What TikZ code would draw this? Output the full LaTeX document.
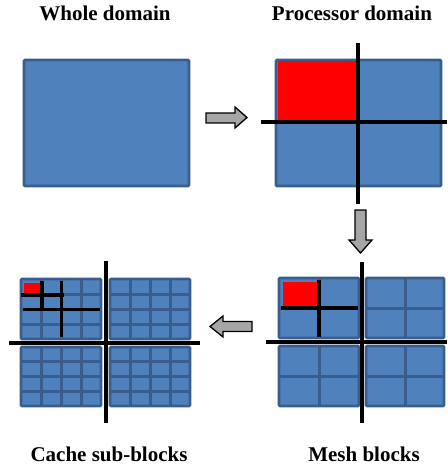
\documentclass[tikz,border=0pt]{standalone}
\usepackage{fontspec}
\setmainfont{Liberation Serif}
\definecolor{domainblue}{HTML}{4F81BD}
\definecolor{domainedge}{HTML}{395D8C}
\definecolor{arrowgray}{HTML}{A6A6A6}
\definecolor{hotred}{HTML}{FF0000}
\tikzset{
  title/.style={font=\bfseries\fontsize{21}{24}\selectfont, anchor=base, inner sep=0pt},
  domainbox/.style={fill=domainblue, draw=domainedge, line width=2.8pt, rounded corners=1pt},
  celledge/.style={draw=domainedge, line width=3pt},
  cutline/.style={line width=4pt, black},
  subcut/.style={line width=3.6pt, black},
  blockarrow/.style={fill=arrowgray, draw=black, line width=1.3pt, line join=miter},
}
% a block of cells: x0, y0, x1, y1, fractions where the cell walls sit
\newcommand\cellblock[5]{%
  \fill[domainblue] (#1,#2) rectangle (#3,#4);
  \foreach \f in {#5} {
    \draw[celledge] ({#1+\f*(#3-#1)},#2) -- ({#1+\f*(#3-#1)},#4);
    \draw[celledge] (#1,{#2+\f*(#4-#2)}) -- (#3,{#2+\f*(#4-#2)});
  }
  \draw[domainbox, fill=none] (#1,#2) rectangle (#3,#4);
}
\begin{document}
\begin{tikzpicture}[x=1pt, y=-1pt]
\useasboundingbox (0,0) rectangle (447,465);

% titles
\node[title] (t1) at (105,21) {Whole domain};
\node[title] (t2) at (352,21) {Processor domain};
\node[title] (t3) at (364,461) {Mesh blocks};
\node[title] (t4) at (109,461) {Cache sub-blocks};

% whole domain
\draw[domainbox] (24,60) rectangle (189,186);
\coordinate (whole) at (106.5,123);

% processor domain
\draw[domainbox] (276,60) rectangle (441,186);
\fill[hotred] (277.5,61.5) rectangle (357,121);
\draw[cutline] (358,43) -- (358,204);
\draw[cutline] (261,122) -- (447,122);

% mesh blocks
\cellblock{279}{278}{359}{338}{0.5}
\cellblock{366}{278}{444}{338}{0.5}
\cellblock{279}{346}{359}{406}{0.5}
\cellblock{366}{346}{444}{406}{0.5}
\fill[hotred] (283,282) rectangle (318,307);
\draw[cutline] (319,280) -- (319,337);
\draw[cutline] (281,308) -- (358,308);
\draw[cutline] (362,262) -- (362,423);
\draw[cutline] (266,342) -- (447,342);

% cache sub-blocks
\cellblock{21}{279}{101}{339}{0.25,0.5,0.75}
\cellblock{110}{279}{190}{339}{0.25,0.5,0.75}
\cellblock{21}{347}{101}{406}{0.25,0.5,0.75}
\cellblock{110}{347}{190}{406}{0.25,0.5,0.75}
\fill[hotred] (24,283) rectangle (40,294);
\draw[subcut] (42,281) -- (42,308);
\draw[subcut] (21,295) -- (64,295);
\draw[subcut] (61.5,281) -- (61.5,337);
\draw[subcut] (23,309.5) -- (100,309.5);
\draw[cutline] (106,261) -- (106,423);
\draw[cutline] (9,343) -- (200,343);

% block arrows between the stages
\draw[blockarrow] (206,113) -- (235,113) -- (235,107) -- (247,117.5) -- (235,128) -- (235,123) -- (206,123) -- cycle;
\draw[blockarrow] (355,210) -- (366,210) -- (366,240) -- (372,240) -- (360.5,253) -- (349,240) -- (355,240) -- cycle;
\draw[blockarrow] (252,321.5) -- (223,321.5) -- (223,316) -- (210,326.5) -- (223,337) -- (223,331.5) -- (252,331.5) -- cycle;
\end{tikzpicture}
\end{document}
